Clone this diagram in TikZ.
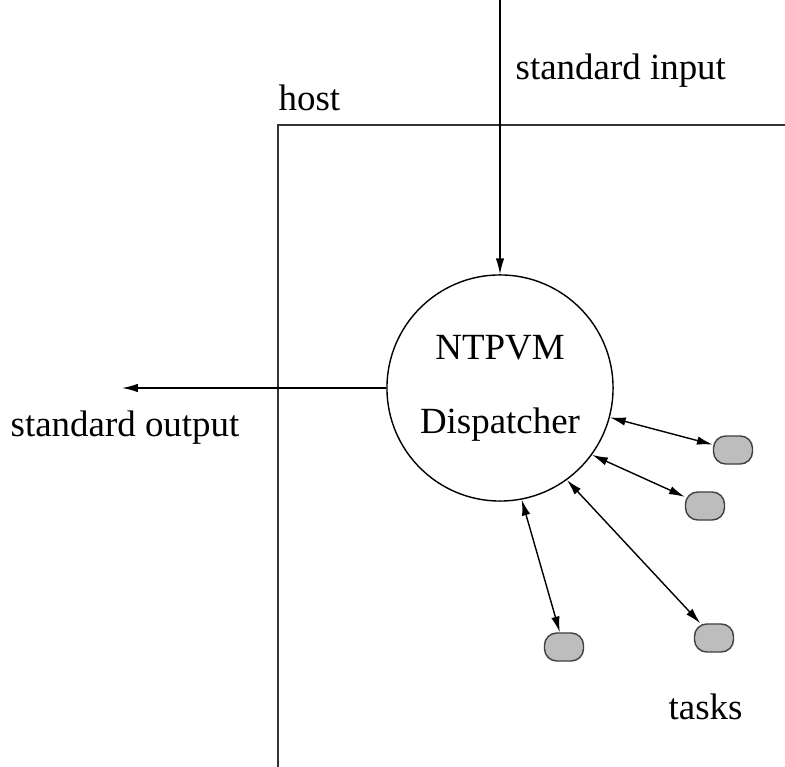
\documentclass[tikz,border=0pt]{standalone}
\usepackage{fontspec}
\setmainfont{Liberation Serif}
\usetikzlibrary{arrows.meta,positioning}
\definecolor{taskgrey}{HTML}{BDBDBD}

\begin{document}
\begin{tikzpicture}[x=0.01cm, y=0.01cm, >={Latex[length=4.5pt,width=2.4pt]},
    font=\fontsize{10.5}{12}\selectfont, line width=0.4pt]
    \useasboundingbox (0,0) rectangle (785,767);
    \tikzset{
        task/.style={draw=black!75, fill=taskgrey, rounded corners=3.5pt,
            minimum width=0.39cm, minimum height=0.28cm, inner sep=0pt},
        label/.style={inner sep=0pt, anchor=base west}
    }
    % host boundary
    \draw[line width=0.75pt, black!80] (785,642) -| (278,0);
    \node[label] (host) at (278,656) {host};
    % dispatcher
    \node[draw, circle, minimum size=2.26cm, inner sep=0pt, align=center] (disp) at (500,379)
        {NTPVM\\[9pt]Dispatcher};
    \coordinate (in) at (disp.north |- 0,767);
    \coordinate (out) at (122,379);
    \draw[->] (in) -- (disp.north);
    \node[label] (stdin) at (515,687) {standard input};
    \draw[->] (disp.west) -- (out);
    \node[label] (stdout) at (10,330) {standard output};
    % tasks
    \node[task] (t1) at (733,317) {};
    \node[task] (t2) at (705,261) {};
    \node[task] (t3) at (564,120) {};
    \node[task] (t4) at (714,129) {};
    \draw[<->] (disp.-15) -- (t1);
    \draw[<->] (disp.-36) -- (t2);
    \draw[<->] (disp.-79) -- (t3);
    \draw[<->] (disp.-54) -- (t4);
    \node[label] (tasks) at (668,47) {tasks};
\end{tikzpicture}
\end{document}
